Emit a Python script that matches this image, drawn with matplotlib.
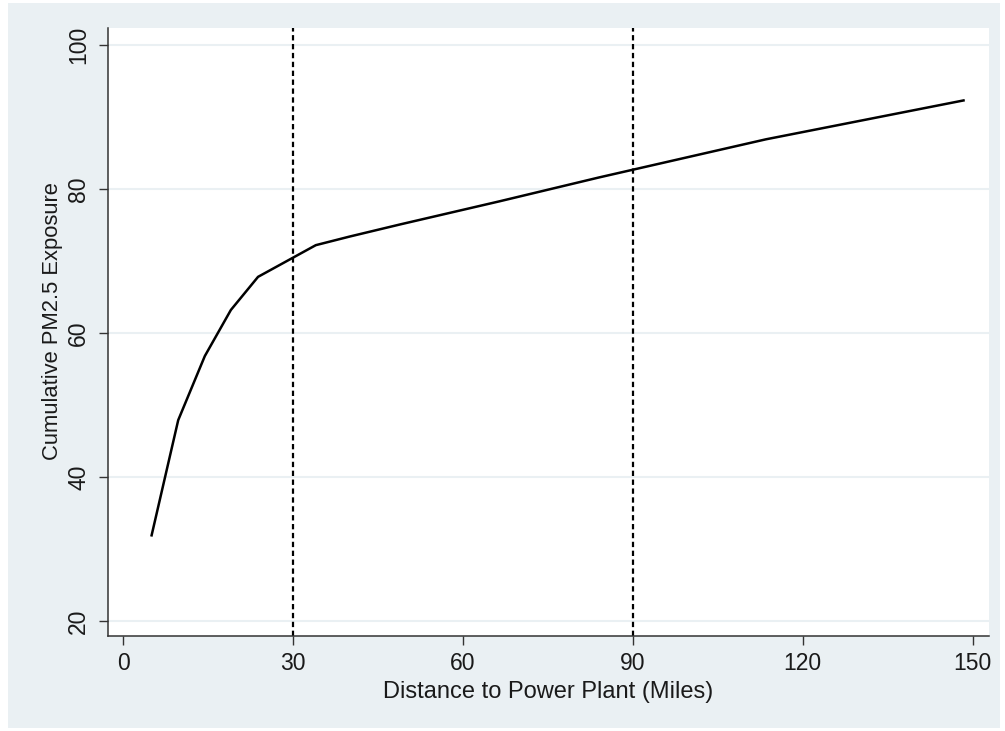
import matplotlib
matplotlib.use("Agg")
import matplotlib.pyplot as plt
from matplotlib.patches import Rectangle

plt.rcParams['font.family'] = ['Liberation Sans', 'DejaVu Sans']

# Data
distance_miles = [5.0, 9.7, 14.4, 19.0, 23.8, 34.0, 40.0, 49.0, 66.5, 84.0, 113.5, 148.4]
cumulative_pm25 = [31.9, 47.9, 56.8, 63.2, 67.8, 72.2, 73.4, 75.1, 78.3, 81.6, 86.9, 92.3]
ref_lines = [30, 90]
x_ticks = [0, 30, 60, 90, 120, 150]
y_ticks = [20, 40, 60, 80, 100]

W, H = 1005, 731
fig = plt.figure(figsize=(W / 100, H / 100), dpi=100)
fig.patch.set_facecolor('white')

bg = '#EAF0F3'
fig.patches.append(Rectangle((8 / W, 1 - 728 / H), (1000 - 8) / W, (728 - 3) / H,
                             transform=fig.transFigure, facecolor=bg,
                             edgecolor='none', zorder=-10))

left, right, top, bottom = 107.5, 989, 28, 636
ax = fig.add_axes([left / W, 1 - bottom / H, (right - left) / W, (bottom - top) / H])
ax.set_zorder(5)
ax.set_facecolor('white')

ax.set_xlim(-2.79, 152.9)
ax.set_ylim(17.92, 102.36)

for yv in y_ticks:
    ax.axhline(yv, color='#EAF0F3', lw=1.5, zorder=1)

for xv in ref_lines:
    ax.axvline(xv, color='black', lw=1.6, linestyle=(0, (2.4, 1.6)), zorder=2)

ax.plot(distance_miles, cumulative_pm25, color='black', lw=1.8, zorder=3,
        solid_joinstyle='round')

for s in ['top', 'right']:
    ax.spines[s].set_visible(False)
for s in ['left', 'bottom']:
    ax.spines[s].set_color('#333333')
    ax.spines[s].set_linewidth(1.1)

ax.set_xticks(x_ticks)
ax.set_yticks(y_ticks)
ax.set_yticklabels([str(v) for v in y_ticks], rotation=90, va='center')
ax.tick_params(axis='both', direction='out', length=6.5, width=1.0,
               color='#333333', labelsize=16.5, labelcolor='#1a1a1a')
ax.tick_params(axis='x', pad=5)
ax.tick_params(axis='y', pad=6)

ax.set_xlabel('Distance to Power Plant (Miles)', fontsize=17, color='#1a1a1a')
ax.xaxis.set_label_coords(0.5, -0.074)
ax.set_ylabel('Cumulative PM2.5 Exposure', fontsize=15.8, color='#1a1a1a')
ax.yaxis.set_label_coords(-0.051, 0.518)

fig.savefig('out.png', dpi=100, facecolor=fig.get_facecolor())
